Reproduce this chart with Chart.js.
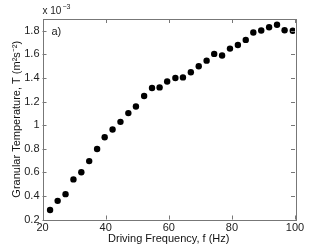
<!DOCTYPE html>
<html><head><meta charset="utf-8">
<script src="https://cdn.jsdelivr.net/npm/chart.js@4"></script>
<style>html,body{margin:0;padding:0;background:#fff;}canvas{display:block;}</style>
</head><body>
<canvas id="c" width="327" height="246"></canvas>
<script>
const frequency = [22.4, 24.8, 27.3, 29.8, 32.3, 34.8, 37.3, 39.7, 42.2, 44.7, 47.2, 49.6, 52.2, 54.7, 57.1, 59.5, 62.1, 64.5, 67.0, 69.5, 72.0, 74.4, 76.9, 79.4, 81.9, 84.4, 86.8, 89.3, 91.8, 94.3, 96.7, 99.3];
const temperature = [0.28, 0.358, 0.415, 0.54, 0.60, 0.695, 0.798, 0.898, 0.963, 1.028, 1.102, 1.158, 1.247, 1.315, 1.32, 1.37, 1.40, 1.405, 1.448, 1.499, 1.547, 1.604, 1.59, 1.649, 1.68, 1.723, 1.785, 1.802, 1.83, 1.851, 1.805, 1.80];
const xTicks = [20, 40, 60, 80, 100];
const yTicks = [0.2, 0.4, 0.6, 0.8, 1.0, 1.2, 1.4, 1.6, 1.8];
const xTitle = 'Driving Frequency, f (Hz)';
const yTitle = 'Granular Temperature, T (m\u00B2s\u207B\u00B2)';
const panelLabel = 'a)';

const FONT = 'Liberation Sans, Arial, sans-serif';

const framePlugin = {
  id: 'frame',
  afterDraw(chart) {
    const {ctx, chartArea: a, scales} = chart;
    ctx.save();
    ctx.strokeStyle = '#777';
    ctx.lineWidth = 1;
    ctx.strokeRect(Math.round(a.left) + 0.5, Math.round(a.top) + 0.5, Math.round(a.right - a.left), Math.round(a.bottom - a.top));
    const L = 4;
    ctx.beginPath();
    xTicks.forEach(v => {
      const x = Math.round(scales.x.getPixelForValue(v)) + 0.5;
      ctx.moveTo(x, a.bottom); ctx.lineTo(x, a.bottom - L);
      ctx.moveTo(x, a.top); ctx.lineTo(x, a.top + L);
    });
    yTicks.forEach(v => {
      const y = Math.round(scales.y.getPixelForValue(v)) + 0.5;
      ctx.moveTo(a.left, y); ctx.lineTo(a.left + L, y);
      ctx.moveTo(a.right, y); ctx.lineTo(a.right - L, y);
    });
    ctx.stroke();
    ctx.fillStyle = '#222';
    ctx.textBaseline = 'alphabetic';
    ctx.font = '11px ' + FONT;
    ctx.fillText(panelLabel, a.left + 9, a.top + 16);
    ctx.font = '10px ' + FONT;
    const base = 'x 10';
    ctx.fillText(base, a.left, a.top - 5);
    const w = ctx.measureText(base).width;
    ctx.font = '7px ' + FONT;
    ctx.fillText('\u22123', a.left + w + 1, a.top - 10);
    ctx.restore();
  }
};

new Chart(document.getElementById('c'), {
  type: 'scatter',
  data: {
    datasets: [{
      data: frequency.map((f, i) => ({x: f, y: temperature[i]})),
      backgroundColor: '#000',
      borderColor: '#000',
      borderWidth: 0,
      pointRadius: 3.2,
      pointHoverRadius: 3.2
    }]
  },
  options: {
    responsive: false,
    animation: false,
    events: [],
    layout: {padding: {top: 19, right: 32, left: 0, bottom: 0}},
    plugins: {legend: {display: false}, tooltip: {enabled: false}},
    scales: {
      x: {
        type: 'linear', min: 20, max: 100,
        afterBuildTicks: s => { s.ticks = xTicks.map(v => ({value: v})); },
        afterFit: s => { s.height = 26.5; },
        grid: {display: false, drawTicks: false, tickLength: 0},
        border: {display: false},
        ticks: {color: '#222', font: {family: FONT, size: 11}, padding: 2, maxRotation: 0},
        title: {display: true, text: xTitle, color: '#111', font: {family: FONT, size: 11}, padding: {top: 0, bottom: 0}}
      },
      y: {
        type: 'linear', min: 0.2, max: 1.9,
        afterBuildTicks: s => { s.ticks = yTicks.map(v => ({value: v})); },
        afterFit: s => { s.width = 42.5; },
        grid: {display: false, drawTicks: false, tickLength: 0},
        border: {display: false},
        ticks: {color: '#222', font: {family: FONT, size: 11}, padding: 3,
          callback: v => String(Number(v.toFixed(1)))},
        title: {display: true, text: yTitle, color: '#111', font: {family: FONT, size: 11}, padding: {top: 10, bottom: 0}}
      }
    }
  },
  plugins: [framePlugin]
});
</script>
</body></html>
